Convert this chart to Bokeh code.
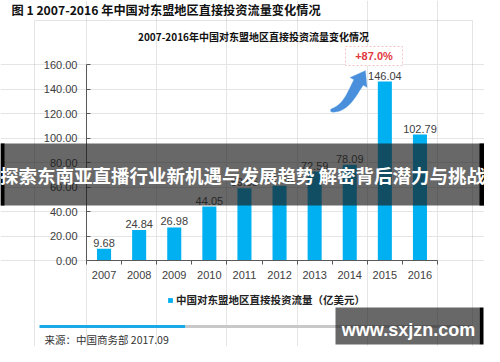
import numpy as np
from bokeh.plotting import figure
from bokeh.models import (Range1d, FixedTicker, Label, BoxAnnotation, PolyAnnotation, LinearAxis,
                          Legend, LegendItem, ColumnDataSource, NumeralTickFormatter)
from bokeh.core.properties import value
from bokeh.embed import file_html
from bokeh.resources import INLINE

# ---- data ----
years = ["2007", "2008", "2009", "2010", "2011", "2012", "2013", "2014", "2015", "2016"]
flows = [9.68, 24.84, 26.98, 44.05, 59.05, 61.00, 72.59, 78.09, 146.04, 102.79]
y_ticks = [0, 20, 40, 60, 80, 100, 120, 140, 160]
series_name = "中国对东盟地区直接投资流量（亿美元）"
outer_title = "图 1 2007-2016 年中国对东盟地区直接投资流量变化情况"
inner_title = "2007-2016年中国对东盟地区直接投资流量变化情况"
growth_note = "+87.0%"
source_note = "来源：中国商务部 2017.09"
banner_text = "探索东南亚直播行业新机遇与发展趋势 解密背后潜力与挑战"
watermark = "www.sxjzn.com"

# ---- layout (canvas pixels) ----
W, H = 484, 346
OX, OY = 8, 8


def cx(x):
    return x - OX


def cy(y):
    return y - OY


PL, PR, PT, PB = cx(94), cx(445), cy(72), cy(268)   # plot area inside the canvas
N = len(years)
YMAX = y_ticks[-1]
x_start = -PL / (PR - PL) * N
x_end = N + (W - PR) / (PR - PL) * N
y_start = -(H - PB) / (PB - PT) * YMAX
y_end = YMAX + PT / (PB - PT) * YMAX

CJK = "Noto Sans CJK SC"
LAT = "Liberation Sans"

p = figure(width=W, height=H, output_backend="svg", toolbar_location=None,
           x_range=Range1d(x_start, x_end), y_range=Range1d(y_start, y_end),
           x_axis_location=None, y_axis_location=None,
           min_border=0, min_border_left=0, min_border_right=0,
           min_border_top=0, min_border_bottom=0)
p.title.visible = False
p.outline_line_color = None
p.background_fill_color = "white"
p.border_fill_color = "white"

centers = [i + 0.5 for i in range(N)]
src = ColumnDataSource(dict(x=centers, top=flows, lab=[f"{v:.2f}" for v in flows]))
bars = p.vbar(x="x", top="top", width=0.4, source=src, fill_color="#00B0F0", line_color=None)
p.text(x="x", y="top", text="lab", source=src, text_align="center", text_baseline="bottom",
       y_offset=-2, text_font=value(LAT), text_font_size="11px", text_color="#404040")

ax_col = "#595959"
ya = LinearAxis(fixed_location=0, bounds=(0, YMAX))
ya.ticker = FixedTicker(ticks=y_ticks)
ya.formatter = NumeralTickFormatter(format="0.00")
ya.major_tick_in = 4
ya.major_tick_out = 0
ya.minor_tick_line_color = None
ya.axis_line_color = ax_col
ya.major_tick_line_color = ax_col
ya.major_label_text_font = LAT
ya.major_label_text_font_size = "11px"
ya.major_label_text_color = "#404040"
ya.major_label_standoff = 9
p.add_layout(ya, "left")

xa = LinearAxis(fixed_location=0, bounds=(0, N))
xa.ticker = FixedTicker(ticks=centers, minor_ticks=list(range(N + 1)))
xa.major_label_overrides = {c: y for c, y in zip(centers, years)}
xa.major_tick_in = 0
xa.major_tick_out = 0
xa.minor_tick_in = 0
xa.minor_tick_out = 4
xa.minor_tick_line_color = ax_col
xa.axis_line_color = ax_col
xa.major_label_text_font = LAT
xa.major_label_text_font_size = "11px"
xa.major_label_text_color = "#404040"
xa.major_label_standoff = 6
p.add_layout(xa, "below")

legend = Legend(items=[LegendItem(label=series_name, renderers=[bars])],
                location=(cx(175), H - cy(315)), padding=0, margin=0, border_line_color=None,
                background_fill_alpha=0, glyph_width=6, glyph_height=6, label_standoff=3,
                label_text_font=CJK, label_text_font_style="bold", label_text_font_size="10.5px",
                label_text_color="#222222", label_height=12)
p.add_layout(legend)


def cbox(l, r, t, b, **kw):
    return BoxAnnotation(left=l, right=r, top=t, bottom=b, left_units="canvas",
                         right_units="canvas", top_units="canvas", bottom_units="canvas", **kw)


# chart frame box
p.add_layout(cbox(cx(42), cx(480), cy(28), cy(355), fill_alpha=0, line_color="#a6a6a6", line_width=1))

# titles
p.add_layout(Label(x=cx(19), y=0.5, x_units="canvas", y_units="canvas", text=outer_title,
                   text_font=CJK, text_font_style="bold", text_font_size="12.2px",
                   text_color="#111111", text_baseline="top", text_align="left"))
p.add_layout(Label(x=cx(261), y=cy(44), x_units="canvas", y_units="canvas", text=inner_title,
                   text_font=CJK, text_font_style="bold", text_font_size="10px",
                   text_color="#111111", text_baseline="middle", text_align="center"))

# growth note box
p.add_layout(cbox(cx(353), cx(410), cy(54), cy(73), fill_color="white", fill_alpha=1,
                  line_color="#d9363e", line_dash="2 2", line_width=1))
p.add_layout(Label(x=cx(381.5), y=cy(63.5), x_units="canvas", y_units="canvas", text=growth_note,
                   text_font=LAT, text_font_style="bold", text_font_size="11px",
                   text_color="#e0393e", text_baseline="middle", text_align="center"))

# curved arrow (decoration)
P = np.array([[338, 118], [353, 117], [359, 102], [366, 90]], dtype=float)
t = np.linspace(0, 1, 30)[:, None]
curve = ((1 - t) ** 3) * P[0] + 3 * ((1 - t) ** 2) * t * P[1] + 3 * (1 - t) * t ** 2 * P[2] + t ** 3 * P[3]
d = 3 * ((1 - t) ** 2) * (P[1] - P[0]) + 6 * (1 - t) * t * (P[2] - P[1]) + 3 * t ** 2 * (P[3] - P[2])
d = d / np.linalg.norm(d, axis=1, keepdims=True)
nrm = np.column_stack([-d[:, 1], d[:, 0]])
hw = (1.0 + 4.5 * np.sqrt(t))
side_a = curve + nrm * hw
side_b = curve - nrm * hw
tip = P[3] + 14 * d[-1]
ha = P[3] + 10 * nrm[-1]
hb = P[3] - 10 * nrm[-1]
pts = np.vstack([side_a, ha[None], tip[None], hb[None], side_b[::-1]])
p.add_layout(PolyAnnotation(xs=list(pts[:, 0] - OX), ys=list(pts[:, 1] - OY),
                            xs_units="canvas", ys_units="canvas",
                            fill_color="#4a8fdc", fill_alpha=1, line_color="#8cc0f2", line_width=1))

# bottom progress bar & source
p.add_layout(cbox(cx(47), cx(193), cy(332.5), cy(335.5), fill_color="#1aa9e6", fill_alpha=1, line_color=None))
p.add_layout(cbox(cx(193), cx(480), cy(332.5), cy(335.5), fill_color="#c8c8c8", fill_alpha=1, line_color=None))
p.add_layout(Label(x=cx(52), y=cy(347), x_units="canvas", y_units="canvas", text=source_note,
                   text_font=CJK, text_font_size="10.5px",
                   text_color="#333333", text_baseline="middle", text_align="left"))

# banner overlay
p.add_layout(cbox(0, W, cy(151), cy(213), fill_color="#1a1a1a", fill_alpha=0.66, line_color=None))
p.add_layout(cbox(0, cx(12), cy(151), cy(213), fill_color="black", fill_alpha=1, line_color=None))
p.add_layout(cbox(cx(487), W, cy(151), cy(213), fill_color="black", fill_alpha=1, line_color=None))
p.add_layout(Label(x=W / 2, y=cy(182), x_units="canvas", y_units="canvas", text=banner_text,
                   text_font=CJK, text_font_style="bold", text_font_size="18.5px",
                   text_color="white", text_baseline="middle", text_align="center"))

# watermark
p.add_layout(cbox(cx(343), cx(487), cy(315), cy(352), fill_color="#1a1a1a", fill_alpha=0.66, line_color=None))
p.add_layout(cbox(cx(487), cx(491), cy(315), cy(352), fill_color="black", fill_alpha=1, line_color=None))
p.add_layout(Label(x=cx(416), y=cy(337), x_units="canvas", y_units="canvas", text=watermark,
                   text_font=LAT, text_font_style="bold", text_font_size="18px",
                   text_color="white", text_baseline="middle", text_align="center"))

open("out.html", "w").write(file_html(p, INLINE))
